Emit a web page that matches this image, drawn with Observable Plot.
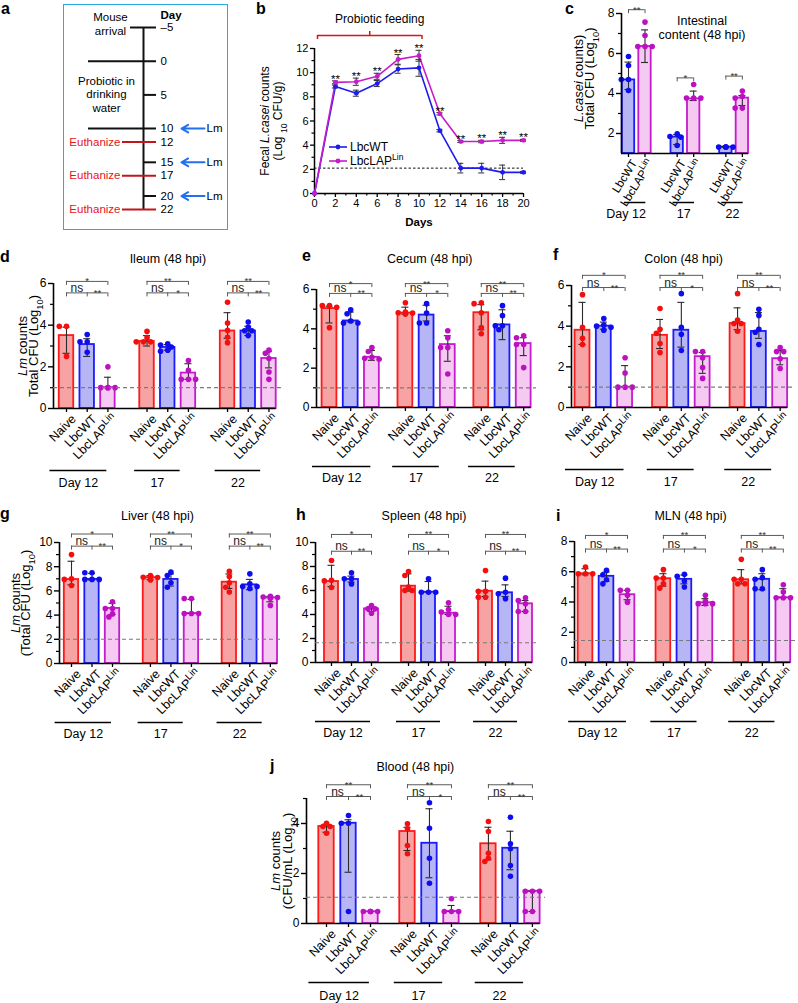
<!DOCTYPE html>
<html><head><meta charset="utf-8">
<script src="https://cdn.jsdelivr.net/npm/d3@7"></script>
<script src="https://cdn.jsdelivr.net/npm/@observablehq/plot@0.6"></script>
<style>
html,body{margin:0;padding:0;background:#fff;}
#fig{position:relative;width:798px;height:1003px;overflow:hidden;font-family:"Liberation Sans",Arial,Helvetica,sans-serif;color:#000;}
.letter{position:absolute;font-weight:bold;font-size:16px;line-height:16px;}
.legend{position:absolute;font-size:12px;line-height:14px;}
.legend div{display:flex;align-items:center;height:14px;}
.legend svg{margin-right:3px;}
.legend sup{font-size:8.5px;vertical-align:5px;line-height:0;}
</style></head><body><div id="fig"></div>
<script>
// ================= DATA =================
// (a) timeline
const timelineDays  = [-5, 0, 5, 10, 12, 15, 17, 20, 22];
const timelineEvent = ["arrival","probiotic","tick","probiotic","euthanize","tick","euthanize","tick","euthanize"];
const infectionDays = [10, 15, 20];
const probioticPhase = [0, 10];

// (b) fecal L. casei counts
const fecalDays  = [0, 2, 4, 6, 8, 10, 12, 14, 16, 18, 20];
const fecalSeries = ["LbcWT", "LbcLAP^{Lin}"];
const fecalWT    = [0, 8.85, 8.3, 9.1, 10.3, 10.4, 5.2, 2.1, 2.1, 1.75, 1.75];
const fecalWTsd  = [0, 0.12, 0.25, 0.25, 0.35, 0.7, 0.1, 0.4, 0.4, 0.6, 0.08];
const fecalLAP   = [0, 9.2, 9.25, 9.7, 11.1, 11.4, 6.6, 4.3, 4.3, 4.4, 4.4];
const fecalLAPsd = [0, 0.12, 0.3, 0.25, 0.4, 0.45, 0.1, 0.08, 0.1, 0.25, 0.08];
const fecalSig   = ["", "**", "**", "**", "**", "**", "**", "**", "**", "**", "**"];
const fecalLOD   = 2.1;

// common categories
const dayGroups = ["Day 12", "17", "22"];
const treatGroups = ["Naive", "LbcWT", "LbcLAP^{Lin}"];

// (c) intestinal content, L. casei
const intestGroups = ["LbcWT", "LbcLAP^{Lin}"];
const intestMean = [4.68, 6.35, 1.82, 3.73, 1.32, 3.77];
const intestLo   = [4.2, 5.55, 1.45, 3.65, 1.3, 3.4];
const intestHi   = [5.57, 7.18, 1.95, 4.12, 1.35, 3.9];
const intestPoints = [[5.85,5.4,4.7,4.7,4.15],[7.57,6.9,6.35,6.35,6.35],[1.98,1.85,1.82,1.4],[4.45,3.77,3.77,3.77],[1.32,1.32,1.32,1.32,1.32],[4.12,3.85,3.77,3.27,3.27]];
const intestSig  = ["**", "*", "**"];

// (d) ileum
const ileumMean = [3.5, 3.07, 1.0, 3.22, 2.93, 1.7, 3.72, 3.72, 2.4];
const ileumLo   = [2.65, 2.5, 1.0, 3.0, 2.8, 1.4, 3.37, 3.5, 1.95];
const ileumHi   = [3.9, 3.35, 1.5, 3.5, 3.07, 2.15, 4.6, 3.95, 2.75];
const ileumPoints = [[3.95,3.95,2.5],[3.55,3.2,3.2,2.7],[2.0,1.0,1.0,1.0,1.0],[3.7,3.4,3.2,3.2,3.2],[3.1,3.05,2.95,2.8,2.75],[2.3,1.83,1.4,1.4,1.4],[5.1,4.1,3.75,3.42,3.16],[4.15,3.9,3.73,3.73,3.5],[2.8,2.65,2.4,1.75,1.4]];
const ileumSig = [["*","ns","**"],["**","ns","*"],["**","ns","**"]];

// (e) cecum
const cecumMean = [5.03, 4.4, 2.55, 4.8, 4.7, 3.2, 4.82, 4.2, 3.25];
const cecumLo   = [4.3, 4.35, 2.4, 4.75, 4.4, 2.35, 3.95, 3.45, 2.64];
const cecumHi   = [5.15, 4.85, 2.9, 5.1, 5.2, 3.65, 5.23, 4.97, 3.55];
const cecumPoints = [[5.18,5.18,5.1,4.06],[4.97,4.77,4.4,4.3,4.3],[3.05,2.85,2.55,2.5,2.45],[5.33,4.85,4.82,4.8,4.75],[5.28,4.8,4.3,4.3],[3.9,3.55,3.05,3.05,1.7],[5.33,5.28,4.82,4.06,3.75],[5.18,4.67,4.16,4.16,3.95],[3.65,3.55,3.2,3.2,2.03]];
const cecumSig = [["*","ns","**"],["**","ns","*"],["**","ns","**"]];

// (f) colon
const colonMean = [3.8, 4.0, 1.0, 3.55, 3.8, 2.5, 4.13, 3.74, 2.4];
const colonLo   = [3.1, 3.85, 1.0, 2.9, 2.97, 1.68, 3.83, 3.4, 2.1];
const colonHi   = [5.17, 4.2, 2.06, 4.33, 5.17, 2.7, 4.9, 4.67, 2.8];
const colonPoints = [[5.55,3.95,3.4,3.1],[4.38,4.05,4.0,3.95,3.8],[2.45,1.7,1.0,1.0,1.0],[4.87,3.85,3.65,3.15,2.7],[5.6,3.95,3.6,2.8],[2.75,2.75,2.45,1.97,1.43],[5.6,4.3,4.13,4.13,3.75],[4.83,4.53,3.85,3.7,3.1],[2.95,2.75,2.75,2.4,1.92]];
const colonSig = [["*","ns","**"],["**","ns","*"],["**","ns","**"]];

// (g) liver
const liverMean = [6.94, 6.95, 4.55, 7.1, 6.95, 4.13, 6.72, 6.5, 5.42];
const liverLo   = [6.5, 6.9, 4.05, 6.93, 6.4, 4.13, 6.2, 6.1, 5.1];
const liverHi   = [8.45, 7.45, 4.98, 7.27, 7.4, 5.3, 7.4, 6.95, 5.55];
const liverPoints = [[9.0,7.0,6.95,6.45],[7.5,7.5,6.95,6.95,6.95],[5.1,4.55,4.55,4.1,3.85],[7.27,7.13,7.1,6.93,6.93],[7.55,7.27,6.67,6.3],[5.37,5.37,4.13,4.13,4.13],[7.63,7.19,6.67,6.3,5.9],[7.41,6.59,6.36,6.36,6.2],[5.55,5.5,5.45,5.4,4.8]];
const liverSig = [["*","ns","**"],["**","ns","*"],["**","ns","**"]];

// (h) spleen
const spleenMean = [6.75, 6.92, 4.47, 6.36, 5.86, 4.11, 5.94, 5.81, 4.89];
const spleenLo   = [6.33, 6.7, 4.25, 5.95, 5.86, 4.0, 5.5, 5.5, 4.25];
const spleenHi   = [8.1, 7.2, 4.67, 7.39, 6.75, 4.69, 6.78, 6.47, 5.17];
const spleenPoints = [[8.5,6.85,6.8,6.25],[7.47,6.97,6.97,6.55],[4.75,4.47,4.47,4.1],[7.58,7.25,6.28,6.0,6.0],[6.97,5.86,5.86,5.86],[4.97,4.42,4.2,4.0,4.0],[7.67,5.94,5.94,5.44,5.44],[7.03,5.86,5.72,5.31],[5.39,5.17,4.89,4.25,4.25]];
const spleenSig = [["*","ns","**"],["**","ns","*"],["**","ns","**"]];

// (i) MLN
const mlnMean = [5.87, 5.7, 4.48, 5.54, 5.5, 3.95, 5.47, 5.5, 4.28];
const mlnLo   = [5.8, 5.36, 4.15, 5.05, 5.2, 3.77, 5.2, 4.81, 4.28];
const mlnHi   = [6.2, 5.98, 4.77, 5.87, 5.78, 4.22, 6.14, 5.87, 4.88];
const mlnPoints = [[6.31,5.87,5.87,5.87],[6.09,5.8,5.47,5.2],[4.77,4.77,4.44,3.99],[6.14,5.58,5.58,5.21,4.92],[5.83,5.7,5.39,4.99],[4.44,4.04,3.89,3.89,3.89],[6.82,5.5,5.5,5.21,5.21],[6.14,5.61,5.5,4.88,4.88],[5.14,4.66,4.28,4.28,4.28]];
const mlnSig = [["*","ns","**"],["**","ns","*"],["**","ns","**"]];

// (j) blood
const bloodMean = [3.88, 4.01, 0.47, 3.68, 3.21, 0.48, 3.19, 3.01, 1.29];
const bloodLo   = [3.65, 2.05, 0.47, 2.92, 1.83, 0.48, 2.55, 2.15, 0.48];
const bloodHi   = [3.97, 4.15, 0.47, 3.85, 4.59, 0.72, 3.85, 3.69, 1.29];
const bloodPoints = [[4.01,3.88,3.88,3.61],[4.32,4.01,4.01,0.48],[0.48,0.48,0.48,0.48,0.48],[3.99,3.79,3.12,2.79],[4.83,3.81,2.61,1.61],[0.99,0.48,0.48,0.48],[4.08,3.68,2.81,2.61,2.48],[4.25,3.19,2.99,2.32,1.89],[1.29,1.29,1.29,0.48,0.48]];
const bloodSig = [["**","ns","**"],["**","ns","*"],["**","ns","**"]];

// ================= STYLE / HELPERS =================
const FONT = '"Liberation Sans", Arial, Helvetica, sans-serif';
const fig = document.getElementById("fig");
const GROUP_STYLE = {
  "Naive":        {fill: "#f7a3a3", stroke: "#fb1a1a", dot: "#f40f0f"},
  "LbcWT":        {fill: "#b6b6f6", stroke: "#1b1bfa", dot: "#0d0df0"},
  "LbcLAP^{Lin}": {fill: "#f6c9f2", stroke: "#c21ccb", dot: "#bd10c2"}
};
const baseStyle = {fontFamily: FONT, fontSize: "12px", background: "transparent", overflow: "visible", color: "#000"};
const fmt = d => String(d);

function richify(root) {
  const nodes = Array.from(root.querySelectorAll("text, tspan"));
  for (const el of nodes) {
    if (el.children.length) continue;
    const s = el.textContent;
    if (!/[\^_*]\{/.test(s)) continue;
    el.textContent = "";
    const re = /([\^_*])\{([^}]*)\}/g;
    let last = 0, m;
    const add = (txt, kind) => {
      const t = document.createElementNS("http://www.w3.org/2000/svg", "tspan");
      t.textContent = txt;
      if (kind === "^") { t.setAttribute("baseline-shift", "super"); t.style.fontSize = "0.78em"; }
      if (kind === "_") { t.setAttribute("baseline-shift", "sub"); t.style.fontSize = "0.72em"; }
      if (kind === "*") t.setAttribute("font-style", "italic");
      el.appendChild(t);
    };
    while ((m = re.exec(s))) {
      if (m.index > last) add(s.slice(last, m.index));
      add(m[2], m[1]);
      last = re.lastIndex;
    }
    if (last < s.length) add(s.slice(last));
  }
}
function mount(svg, left, top) {
  richify(svg);
  svg.style.position = "absolute";
  svg.style.left = left + "px";
  svg.style.top = top + "px";
  svg.style.maxWidth = "none";
  svg.style.overflow = "visible";
  fig.appendChild(svg);
  return svg;
}
function spreadDots(values, cx, unit, pxPerY, color) {
  const placed = [];
  return values.map(v => {
    const yp = v * pxPerY;
    let off = 0;
    for (const c of [0, -1, 1, -2, 2, -3, 3]) {
      const xp = c * 3.6;
      if (placed.every(([px, py]) => Math.hypot(px - xp, py - yp) >= 4.6)) { off = xp; break; }
    }
    placed.push([off, yp]);
    return {x: cx + off / unit, y: v, color};
  });
}

// ================= BAR PANEL =================
function barPanel(P) {
  const L = P.layout;
  const nB = P.groups.length, nD = P.days.length;
  const bw = P.barWidth;
  const a = (L.x0 - L.axisX) / L.unit;
  const xEnd = (nD - 1) * L.stride + (nB - 1) + bw / 2;
  const frameRight = L.axisX + (xEnd + a) * L.unit;
  const [ymin, ymax] = P.yDomain;
  const pxPerY = (L.yBottom - L.yTop) / (ymax - ymin);
  const pos = (g, i) => g * L.stride + i;
  const bars = [];
  P.days.forEach((day, g) => P.groups.forEach((grp, i) => {
    const k = g * nB + i;
    bars.push({day, grp, x: pos(g, i), mean: P.means[k], lo: P.lo[k], hi: P.hi[k], pts: P.points[k], st: GROUP_STYLE[grp]});
  }));
  const dots = bars.flatMap(b => spreadDots(b.pts, b.x, L.unit, pxPerY, b.st.dot));
  const errs = bars.filter(b => b.hi - b.lo > 0.01);
  const cap = 3.5 / L.unit;
  const drop = 4 / pxPerY;
  const H = [], V = [], T = [];
  P.days.forEach((day, g) => {
    const s = P.sig[g];
    if (nB === 3) {
      const xN = pos(g, 0), xW = pos(g, 1), xL = pos(g, 2);
      const [yt, yl] = P.bracketY;
      H.push({x1: xN, x2: xL, y: yt}, {x1: xN, x2: xL, y: yl});
      V.push({x: xN, y1: yt - drop, y2: yt}, {x: xL, y1: yt - drop, y2: yt},
             {x: xN, y1: yl - drop, y2: yl}, {x: xW, y1: yl - drop, y2: yl}, {x: xL, y1: yl - drop, y2: yl});
      T.push({x: (xN + xL) / 2, y: yt, t: s[0], star: true},
             {x: (xN + xW) / 2, y: yl, t: s[1], star: false},
             {x: (xW + xL) / 2, y: yl, t: s[2], star: true});
    } else {
      const x1 = pos(g, 0), x2 = pos(g, 1), y = P.bracketY[g];
      H.push({x1, x2, y});
      V.push({x: x1, y1: y - drop, y2: y}, {x: x2, y1: y - drop, y2: y});
      T.push({x: (x1 + x2) / 2, y, t: s, star: true});
    }
  });
  const ulY = ymin - P.ulDy[0] / pxPerY, lbY = ymin - P.ulDy[1] / pxPerY;
  const dayLines = P.days.map((day, g) => {
    const u = P.underline[g === 0 ? 0 : 1];
    return {day, g, x1: pos(g, 0) + u[0], x2: pos(g, 0) + u[1]};
  });
  const marks = [
    Plot.rect(bars, {x1: d => d.x - bw / 2, x2: d => d.x + bw / 2, y1: ymin, y2: "mean",
      fill: d => d.st.fill, stroke: d => d.st.stroke, strokeWidth: 1.8}),
    Plot.ruleX(errs, {x: "x", y1: "lo", y2: "hi", stroke: "#2b2b2b", strokeWidth: 1.1}),
    Plot.ruleY(errs, {x1: d => d.x - cap, x2: d => d.x + cap, y: "lo", stroke: "#2b2b2b", strokeWidth: 1.1}),
    Plot.ruleY(errs, {x1: d => d.x - cap, x2: d => d.x + cap, y: "hi", stroke: "#2b2b2b", strokeWidth: 1.1}),
    Plot.dot(dots, {x: "x", y: "y", r: 2.8, fill: "color", stroke: null}),
    // axes
    Plot.ruleX([-a], {y1: ymin, y2: ymax, stroke: "#000", strokeWidth: 1.6}),
    Plot.ruleY([ymin], {x1: -a, x2: xEnd, stroke: "#000", strokeWidth: 1.6}),
    Plot.axisY({ticks: P.yTicks, tickFormat: fmt, tickSize: 5, tickPadding: 2, label: null, fontSize: P.tickFont, strokeWidth: 1.4}),
    Plot.axisY({ticks: P.yMinor, tickSize: 3, tickFormat: () => "", label: null, strokeWidth: 1.2}),
    Plot.ruleX(bars, {x: "x", y1: ymin, y2: ymin - 4 / pxPerY, stroke: "#000", strokeWidth: 1.3}),
    Plot.text(bars, {x: "x", y: ymin, text: "grp", rotate: P.rotate, textAnchor: "end", lineAnchor: "top",
      dx: P.labelDx, dy: P.labelDy, fontSize: P.labelFont}),
    Plot.ruleY(dayLines, {x1: "x1", x2: "x2", y: ulY, stroke: "#000", strokeWidth: 1.5}),
    Plot.text(dayLines.slice(0, 1), {x: d => (d.x1 + d.x2) / 2, y: lbY, dx: P.firstLabelDx || 0, text: "day", fontSize: 12.5, lineAnchor: "middle", textAnchor: "middle"}),
    Plot.text(dayLines.slice(1), {x: d => (d.x1 + d.x2) / 2, y: lbY, text: "day", fontSize: 12.5, lineAnchor: "middle", textAnchor: "middle"}),
    // significance brackets
    Plot.ruleY(H, {x1: "x1", x2: "x2", y: "y", stroke: "#5a5a5a", strokeWidth: 1}),
    Plot.ruleX(V, {x: "x", y1: "y1", y2: "y2", stroke: "#5a5a5a", strokeWidth: 1}),
    Plot.text(T.filter(t => t.star), {x: "x", y: "y", text: "t", lineAnchor: "bottom", dy: 3, fontSize: 9.5, fill: "#333"}),
    Plot.text(T.filter(t => !t.star), {x: "x", y: "y", text: "t", lineAnchor: "bottom", dy: -1, fontSize: 12, fill: "#222"}),
  ];
  if (P.lod != null) marks.push(Plot.ruleY([P.lod], {x1: -a, x2: xEnd + 0.25, stroke: "#7a7a7a", strokeWidth: 1.1, strokeDasharray: "4,3"}));
  if (P.title) P.title.forEach((t, i) => marks.push(Plot.text([t], {frameAnchor: "top", text: d => d, dx: P.titleDx, dy: P.titleDy[i],
    lineAnchor: "middle", textAnchor: "middle", fontSize: 12.5})));
  if (P.ylabel) P.ylabel.forEach((t, i) => marks.push(Plot.text([t], {frameAnchor: "left", text: d => d, rotate: -90,
    textAnchor: "middle", lineAnchor: "middle", dx: P.ylabelDx[i], dy: P.ylabelDy || 0, fontSize: 13})));
  const svg = Plot.plot({
    width: L.width, height: L.height,
    marginLeft: L.axisX - L.left, marginRight: L.left + L.width - frameRight,
    marginTop: L.yTop - L.top, marginBottom: L.top + L.height - L.yBottom,
    x: {domain: [-a, xEnd], axis: null},
    y: {domain: [ymin, ymax]},
    color: {type: "identity"},
    style: baseStyle,
    marks
  });
  return mount(svg, L.left, L.top);
}

// ================= PANEL A =================
function panelA() {
  const W = 165, H = 226;
  const KIND = {arrival: {x1: 67, stroke: "#111"}, probiotic: {x1: 25, stroke: "#111"}, tick: {x1: 80, stroke: "#111"}, euthanize: {x1: 59, stroke: "#c3161c"}};
  const ev = timelineDays.map((d, i) => ({day: d, kind: timelineEvent[i]}));
  const eu = ev.filter(e => e.kind === "euthanize");
  const first = d3.min(timelineDays), last = d3.max(timelineDays);
  const mid = (probioticPhase[0] + probioticPhase[1]) / 2;
  const svg = Plot.plot({
    width: W, height: H, margin: 0, marginTop: 23, marginBottom: 21,
    x: {domain: [0, W], range: [0, W], axis: null},
    y: {domain: [first, last], reverse: true, axis: null},
    color: {type: "identity"},
    style: {...baseStyle, fontSize: "11.5px"},
    marks: [
      Plot.ruleX([80], {y1: first, y2: last, stroke: "#111", strokeWidth: 2}),
      Plot.ruleY(ev, {y: "day", x1: d => KIND[d.kind].x1, x2: 93, stroke: d => KIND[d.kind].stroke, strokeWidth: 2}),
      Plot.text(ev, {y: "day", x: 97, text: d => d.day < 0 ? "\u2013" + (-d.day) : String(d.day), textAnchor: "start", fontSize: 11.5}),
      Plot.text(["Day"], {x: 97, y: first, dy: -12, text: d => d, textAnchor: "start", fontWeight: "bold", fontSize: 11.5}),
      Plot.text(["Mouse\narrival"], {x: 47, y: first, dy: -4, text: d => d, lineHeight: 1.2, fontSize: 11.5}),
      Plot.text(["Probiotic in\ndrinking\nwater"], {x: 43, y: mid, dy: -1, text: d => d, lineHeight: 1.2, fontSize: 11.5}),
      Plot.text(eu, {y: "day", x: 57, text: () => "Euthanize", textAnchor: "end", fill: "#e8141b", fontSize: 11.5}),
      Plot.arrow(infectionDays, {x1: 141, x2: 118, y1: d => d, y2: d => d, stroke: "#2170f0", strokeWidth: 2, headLength: 7}),
      Plot.text(infectionDays, {x: 143, y: d => d, text: () => "Lm", textAnchor: "start", fontSize: 11.5})
    ]
  });
  mount(svg, 63, 4);
  svg.style.outline = "1.6px solid #2aa9e2";
  svg.style.outlineOffset = "-1px";
}

// ================= PANEL B =================
function panelB() {
  const W = 300, H = 235, ml = 74, mt = 48, mb = 42, mr = 17;
  const pxPerY = (H - mt - mb) / 12;
  const pxPerX = (W - ml - mr) / 20;
  const colors = ["#1c1cf2", "#c81ccc"];
  const series = [
    {name: fecalSeries[0], v: fecalWT, sd: fecalWTsd, color: colors[0]},
    {name: fecalSeries[1], v: fecalLAP, sd: fecalLAPsd, color: colors[1]}
  ];
  const pts = series.flatMap(s => fecalDays.map((d, i) => ({day: d, v: s.v[i], sd: s.sd[i], name: s.name, color: s.color})));
  const errs = pts.filter(p => p.sd > 0);
  const cap = 3 / pxPerX;
  const sig = fecalDays.map((d, i) => ({day: d, t: fecalSig[i], y: Math.max(fecalLAP[i] + fecalLAPsd[i], fecalWT[i] + fecalWTsd[i])})).filter(d => d.t);
  const feedY = 12 + 13 / pxPerY, feedDrop = 4 / pxPerY;
  const [f0, f1] = probioticPhase;
  const red = "#d4141a";
  const svg = Plot.plot({
    width: W, height: H, marginLeft: ml, marginTop: mt, marginBottom: mb, marginRight: mr,
    x: {domain: [0, 20]},
    y: {domain: [0, 12]},
    color: {type: "identity"},
    style: {...baseStyle, fontSize: "10.5px"},
    marks: [
      Plot.ruleY([fecalLOD], {x1: 0, x2: 20, stroke: "#111", strokeWidth: 1, strokeDasharray: "2.5,2"}),
      Plot.ruleX([0], {y1: 0, y2: 12, stroke: "#000", strokeWidth: 1.5}),
      Plot.ruleY([0], {x1: 0, x2: 20, stroke: "#000", strokeWidth: 1.5}),
      Plot.axisY({ticks: d3.range(0, 13, 2), tickFormat: fmt, tickSize: 4, tickPadding: 2, label: null, fontSize: 11, strokeWidth: 1.3}),
      Plot.axisY({ticks: d3.range(1, 12, 2), tickSize: 2.5, tickFormat: () => "", label: null, strokeWidth: 1.2}),
      Plot.axisX({ticks: d3.range(0, 21, 2), tickFormat: fmt, tickSize: 4, tickPadding: 2, label: null, fontSize: 11, strokeWidth: 1.3}),
      Plot.axisX({ticks: d3.range(1, 20, 2), tickSize: 2.5, tickFormat: () => "", label: null, strokeWidth: 1.2}),
      Plot.line(pts, {x: "day", y: "v", z: "name", stroke: "color", strokeWidth: 1.6}),
      Plot.ruleX(errs, {x: "day", y1: d => d.v - d.sd, y2: d => d.v + d.sd, stroke: "#333", strokeWidth: 1}),
      Plot.ruleY(errs, {x1: d => d.day - cap, x2: d => d.day + cap, y: d => d.v - d.sd, stroke: "#333", strokeWidth: 1}),
      Plot.ruleY(errs, {x1: d => d.day - cap, x2: d => d.day + cap, y: d => d.v + d.sd, stroke: "#333", strokeWidth: 1}),
      Plot.dot(pts, {x: "day", y: "v", r: 2.4, fill: "color", stroke: null}),
      Plot.text(sig, {x: "day", y: "y", text: "t", lineAnchor: "bottom", dy: 2, fontSize: 11.5}),
      Plot.ruleY([feedY], {x1: f0, x2: f1, dx: 3, stroke: red, strokeWidth: 1.5}),
      Plot.ruleX([f0, f1], {y1: feedY - feedDrop, y2: feedY, dx: 3, stroke: red, strokeWidth: 1.5}),
      Plot.ruleX([(f0 + f1) / 2], {y1: feedY, y2: feedY + feedDrop, dx: 3, stroke: red, strokeWidth: 1.5}),
      Plot.text(["Probiotic feeding"], {x: (f0 + f1) / 2, y: feedY, dx: 13, dy: -16, text: d => d, fontSize: 12}),
      Plot.text(["Days"], {frameAnchor: "bottom", dy: 29, text: d => d, lineAnchor: "middle", textAnchor: "middle", fontWeight: "bold", fontSize: 11.5}),
      Plot.text(["Fecal *{L.casei} counts"], {frameAnchor: "left", rotate: -90, dx: -49, textAnchor: "middle", lineAnchor: "middle", text: d => d, fontSize: 12}),
      Plot.text(["(Log _{10} CFU/g)"], {frameAnchor: "left", rotate: -90, dx: -36, textAnchor: "middle", lineAnchor: "middle", text: d => d, fontSize: 12})
    ]
  });
  mount(svg, 240, 0);
  // legend
  const lg = document.createElement("div");
  lg.className = "legend";
  lg.style.left = "329px"; lg.style.top = "140px";
  series.forEach(s => {
    const row = document.createElement("div");
    row.innerHTML = `<svg width="18" height="10"><line x1="0" y1="5" x2="18" y2="5" stroke="${s.color}" stroke-width="1.6"/><circle cx="9" cy="5" r="2.4" fill="${s.color}"/></svg><span>${s.name.replace(/\^\{([^}]*)\}/, "<sup>$1</sup>")}</span>`;
    lg.appendChild(row);
  });
  fig.appendChild(lg);
}

// ================= RENDER =================
panelA();
panelB();

const common = {groups: treatGroups, days: dayGroups, barWidth: 0.7, rotate: -45, labelFont: 12.5, labelDx: 4, labelDy: 5,
  underline: [[-0.8, 1.95], [-0.6, 1.6]], tickFont: 12};

barPanel({groups: intestGroups, days: dayGroups, barWidth: 0.75, rotate: -58, labelFont: 11.5, labelDx: 2, labelDy: 5,
  underline: [[-0.25, 1.05], [-0.25, 1.05]], tickFont: 12, ulDy: [49, 60], firstLabelDx: -9,
  layout: {left: 560, top: 0, width: 238, height: 230, axisX: 621, x0: 628, unit: 16.5, stride: 2.95, yBottom: 153, yTop: 13},
  yDomain: [1, 8], yTicks: [2, 4, 6, 8], yMinor: [3, 5, 7], lod: null,
  means: intestMean, lo: intestLo, hi: intestHi, points: intestPoints, sig: intestSig, bracketY: [8.19, 4.78, 4.87],
  title: ["Intestinal", "content (48 hpi)"], titleDx: 17, titleDy: [7, 21],
  ylabel: ["*{L.casei} counts)", "Total CFU (Log_{10})"], ylabelDx: [-43, -32], ylabelDy: -5});

barPanel({...common, ulDy: [62, 74],
  layout: {left: 0, top: 248, width: 290, height: 245, axisX: 53, x0: 66, unit: 20.7, stride: 3.89, yBottom: 408, yTop: 283},
  yDomain: [0, 6], yTicks: [0, 2, 4, 6], yMinor: [1, 3, 5], lod: 1,
  means: ileumMean, lo: ileumLo, hi: ileumHi, points: ileumPoints, sig: ileumSig, bracketY: [6.1, 5.55],
  title: ["Ileum (48 hpi)"], titleDx: 3, titleDy: [-25],
  ylabel: ["*{Lm} counts", "Total CFU (Log_{10})"], ylabelDx: [-31, -20]});

barPanel({...common, ulDy: [59, 70],
  layout: {left: 265, top: 248, width: 275, height: 245, axisX: 316, x0: 329, unit: 21.2, stride: 3.58, yBottom: 407, yTop: 289},
  yDomain: [0, 6], yTicks: [0, 2, 4, 6], yMinor: [1, 3, 5], lod: 1,
  means: cecumMean, lo: cecumLo, hi: cecumHi, points: cecumPoints, sig: cecumSig, bracketY: [6.3, 5.8],
  title: ["Cecum (48 hpi)"], titleDx: 6, titleDy: [-31]});

barPanel({...common, ulDy: [62, 74],
  layout: {left: 530, top: 248, width: 268, height: 245, axisX: 571, x0: 582, unit: 21.3, stride: 3.64, yBottom: 407, yTop: 285},
  yDomain: [0, 6], yTicks: [0, 2, 4, 6], yMinor: [1, 3, 5], lod: 1,
  means: colonMean, lo: colonLo, hi: colonHi, points: colonPoints, sig: colonSig, bracketY: [6.5, 5.9],
  title: ["Colon (48 hpi)"], titleDx: 4, titleDy: [-27]});

barPanel({...common, ulDy: [59, 70],
  layout: {left: 0, top: 505, width: 290, height: 245, axisX: 59, x0: 71, unit: 20.5, stride: 3.85, yBottom: 663, yTop: 542},
  yDomain: [0, 10], yTicks: [0, 2, 4, 6, 8, 10], yMinor: [1, 3, 5, 7, 9], lod: 2,
  means: liverMean, lo: liverLo, hi: liverHi, points: liverPoints, sig: liverSig, bracketY: [10.7, 9.7],
  title: ["Liver (48 hpi)"], titleDx: -11, titleDy: [-27],
  ylabel: ["*{Lm} counts", "(Total CFU (Log_{10})"], ylabelDx: [-44, -34]});

barPanel({...common, ulDy: [59, 70],
  layout: {left: 265, top: 505, width: 275, height: 245, axisX: 315, x0: 331, unit: 20, stride: 3.85, yBottom: 662, yTop: 542},
  yDomain: [0, 10], yTicks: [0, 2, 4, 6, 8, 10], yMinor: [1, 3, 5, 7, 9], lod: 1.65,
  means: spleenMean, lo: spleenLo, hi: spleenHi, points: spleenPoints, sig: spleenSig, bracketY: [10.67, 9.27],
  title: ["Spleen (48 hpi)"], titleDx: 0, titleDy: [-27]});

barPanel({...common, ulDy: [59, 70],
  layout: {left: 530, top: 505, width: 268, height: 245, axisX: 574, x0: 585, unit: 21, stride: 3.71, yBottom: 662, yTop: 541},
  yDomain: [0, 8], yTicks: [0, 2, 4, 6, 8], yMinor: [1, 3, 5, 7], lod: 1.45,
  means: mlnMean, lo: mlnLo, hi: mlnHi, points: mlnPoints, sig: mlnSig, bracketY: [8.4, 7.5],
  title: ["MLN (48 hpi)"], titleDx: 8, titleDy: [-26]});

barPanel({...common, ulDy: [59, 72],
  layout: {left: 240, top: 755, width: 320, height: 248, axisX: 306, x0: 326, unit: 22, stride: 3.68, yBottom: 923, yTop: 798},
  yDomain: [0, 5], yTicks: [0, 2, 4], yMinor: [1, 3, 5], lod: 1.05,
  means: bloodMean, lo: bloodLo, hi: bloodHi, points: bloodPoints, sig: bloodSig, bracketY: [5.55, 5.08],
  title: ["Blood (48 hpi)"], titleDx: -8, titleDy: [-32],
  ylabel: ["*{Lm} counts", "(CFU/mL (Log_{10})"], ylabelDx: [-31, -19]});

// panel letters
const letters = [["a", 1, 1], ["b", 256, 1], ["c", 565, 1], ["d", 0, 249], ["e", 302, 248], ["f", 553, 247],
                 ["g", 0, 506], ["h", 296, 507], ["i", 556, 508], ["j", 270, 758]];
letters.forEach(([t, x, y]) => {
  const d = document.createElement("div");
  d.className = "letter"; d.textContent = t; d.style.left = x + "px"; d.style.top = y + "px";
  fig.appendChild(d);
});
</script></body></html>
